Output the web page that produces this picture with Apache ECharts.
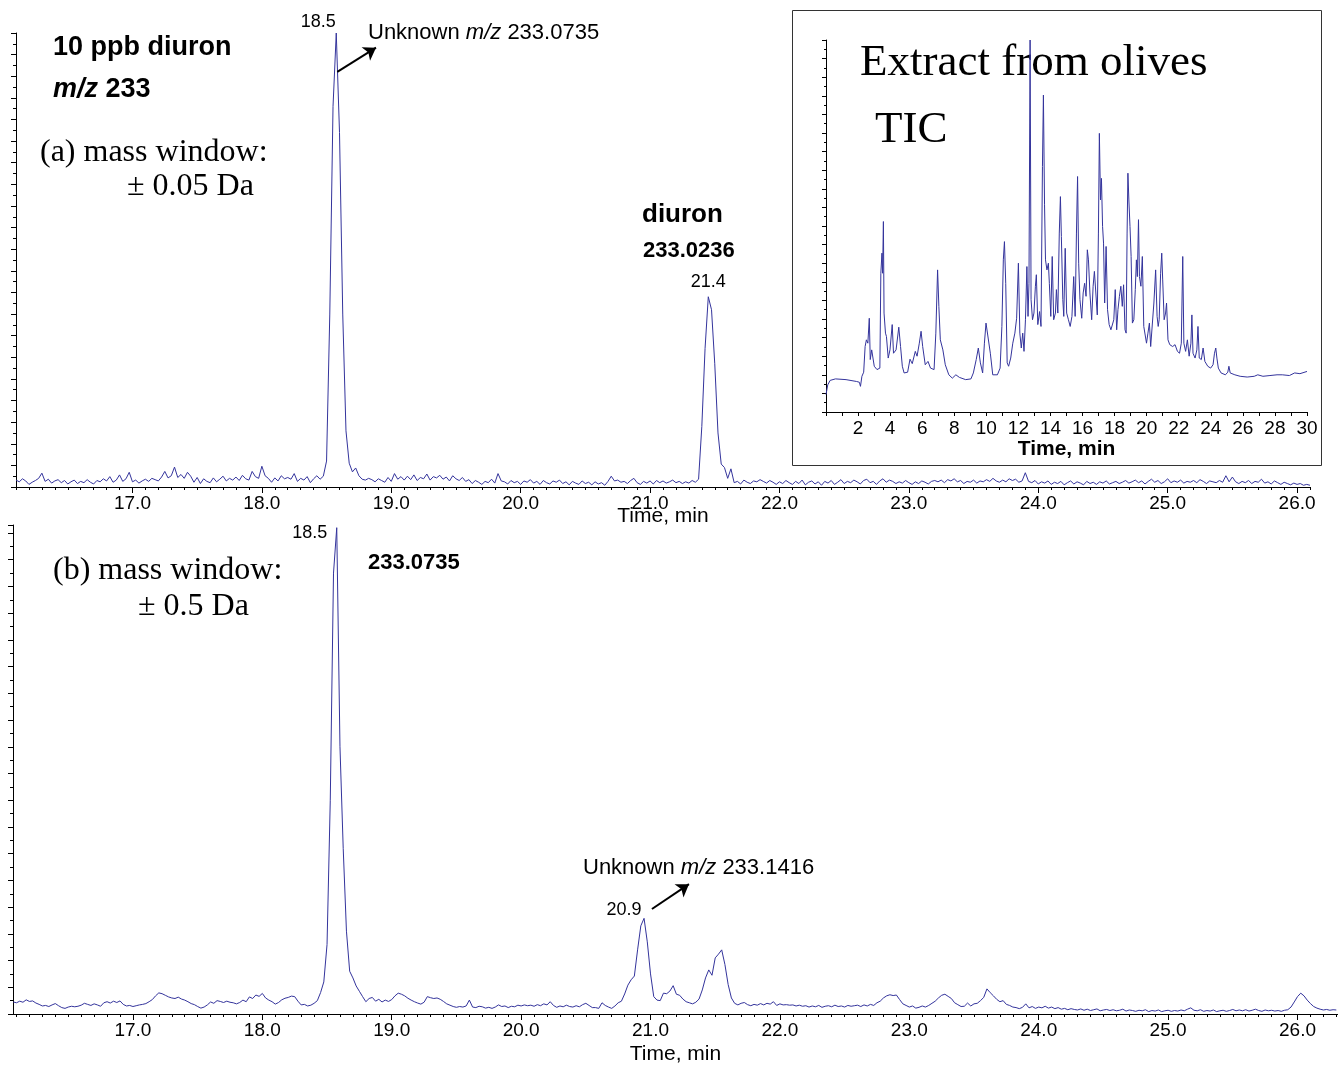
<!DOCTYPE html>
<html>
<head>
<meta charset="utf-8">
<title>diuron m/z 233 chromatograms</title>
<script src="https://cdn.jsdelivr.net/npm/echarts@6/dist/echarts.min.js"></script>
<style>
  html, body { margin: 0; padding: 0; background: #fff; }
  #main { width: 1338px; height: 1065px; }
</style>
</head>
<body>
<div id="main"></div>
<script>
// (a) XIC, mass window +/- 0.05 Da : one scan every 0.025 min from 16.1 min
var topStart = 16.1;
var topStep = 0.025;
var topIntensity = [
  1.6, 1.2, 1.9, 1.4, 0.6, 1.1, 1.5, 2.0, 3.2, 1.3, 1.8, 0.9, 1.4, 1.7, 1.0, 1.5, 0.7, 1.2, 1.6, 0.8,
  1.3, 1.0, 1.7, 1.1, 0.7, 1.5, 1.2, 1.9, 1.4, 2.4, 1.1, 1.6, 2.8, 1.3, 1.9, 3.4, 1.2, 1.6, 0.9, 1.4,
  1.8, 1.3, 2.0, 1.7, 1.4, 2.3, 3.6, 2.1, 2.6, 4.6, 2.2, 2.9, 2.0, 3.4, 2.5, 1.1, 2.2, 0.8, 1.9, 1.3,
  1.0, 2.1, 1.2, 1.8, 2.5, 1.4, 2.0, 1.6, 2.3, 1.5, 2.7, 1.9, 1.6, 3.6, 2.4, 2.0, 4.8, 2.6, 2.0, 1.1,
  2.1, 1.4, 2.6, 1.9, 2.2, 1.8, 3.1, 1.3, 2.0, 1.6, 2.4, 1.0, 1.9, 2.6, 1.8, 2.5, 6.0, 40, 88, 105,
  82, 40, 13, 5.5, 3.5, 4.4, 2.6, 1.8, 1.6, 2.0, 1.7, 1.2, 1.9, 1.5, 1.1, 2.2, 1.3, 3.1, 1.8, 2.4,
  1.6, 2.5, 1.7, 2.8, 1.5, 2.2, 1.9, 3.0, 1.6, 2.4, 2.1, 2.7, 1.8, 2.3, 1.4, 2.6, 1.9, 1.5, 2.2, 1.3,
  1.7, 0.8, 1.5, 1.1, 0.6, 1.3, 1.0, 1.8, 0.9, 3.1, 1.4, 1.2, 0.7, 1.5, 1.0, 1.3, 0.6, 1.4, 1.1, 1.7,
  0.9, 1.3, 0.6, 1.5, 1.0, 0.7, 1.4, 1.1, 1.6, 0.8, 1.2, 0.5, 1.3, 0.9, 0.6, 1.4, 0.8, 1.1, 0.5, 1.2,
  0.7, 1.0, 0.4, 1.3, 2.5, 1.4, 1.6, 1.1, 1.3, 0.8, 1.5, 2.0, 1.0, 0.6, 1.3, 0.9, 1.4, 0.7, 1.5, 1.0,
  1.4, 0.9, 1.2, 1.6, 1.0, 1.3, 0.8, 1.2, 0.9, 1.5, 1.1, 1.8, 14, 32, 44, 41, 28.5, 12.5, 5.3, 4.5,
  2.0, 4.2, 1.0, 1.3, 0.7, 1.6, 1.1, 0.8, 1.4, 1.2, 1.7, 1.3, 0.9, 1.5, 1.1, 0.6, 1.2, 0.8, 1.5, 1.0,
  0.6, 1.3, 0.8, 1.6, 0.5, 1.1, 1.4, 0.7, 1.2, 0.4, 1.3, 0.9, 1.5, 0.6, 1.1, 1.7, 0.8, 1.3, 1.0, 1.6,
  1.2, 0.7, 1.5, 1.8, 1.0, 1.3, 0.6, 1.4, 1.9, 1.1, 1.6, 1.3, 0.8, 1.2, 0.9, 1.5, 1.0, 0.6, 1.2, 0.8,
  1.4, 1.1, 0.7, 1.3, 1.5, 1.2, 1.6, 1.0, 1.7, 1.4, 1.9, 1.2, 1.5, 0.8, 1.3, 1.1, 1.6, 0.9, 1.4, 1.2,
  1.7, 1.3, 2.0, 1.4, 1.1, 1.6, 1.2, 1.9, 1.5, 1.8, 1.1, 1.4, 3.3, 1.3, 1.0, 1.5, 0.7, 1.2, 0.9, 1.4,
  0.6, 1.1, 0.8, 1.3, 0.5, 1.0, 1.4, 0.7, 1.2, 0.9, 0.5, 1.3, 0.8, 1.1, 0.6, 1.2, 0.9, 1.4, 0.7, 1.0,
  1.3, 0.8, 1.1, 1.5, 0.9, 1.2, 1.6, 1.0, 1.4, 0.7, 1.3, 1.8, 1.1, 1.5, 0.8, 1.2, 1.9, 1.0, 1.4, 1.1,
  1.6, 0.9, 1.3, 1.1, 1.5, 1.0, 1.7, 1.3, 0.8, 1.4, 1.2, 1.0, 1.5, 1.1, 2.6, 1.2, 2.3, 1.2, 0.8, 1.3,
  1.0, 1.5, 0.8, 1.3, 1.1, 1.8, 0.9, 1.2, 0.7, 1.4, 1.0, 0.6, 1.1, 0.8, 0.5, 0.9, 0.6, 0.8, 0.4, 0.6,
  0.4
];

// (b) XIC, mass window +/- 0.5 Da : one scan every 0.025 min from 16.075 min
var bottomStart = 16.075;
var bottomStep = 0.025;
var bottomIntensity = [
  4.5, 4.2, 4.8, 4.4, 5.3, 4.7, 4.9, 4.1, 3.6, 3.0, 3.2, 2.8, 3.4, 3.9, 3.1, 2.4, 2.1, 2.6, 2.9, 2.7,
  2.9, 3.3, 4.0, 3.6, 3.2, 3.8, 3.4, 2.9, 4.2, 4.6, 4.1, 4.8, 4.3, 4.9, 3.6, 3.0, 3.2, 2.8, 3.1, 3.4,
  3.6, 3.9, 4.6, 5.4, 6.8, 7.9, 7.6, 7.0, 6.4, 6.0, 5.8, 6.3, 5.6, 5.2, 4.6, 3.9, 3.5, 2.8, 2.2, 2.6,
  3.4, 4.5, 4.0, 5.0, 4.7, 4.3, 4.8, 4.4, 4.2, 3.8, 4.3, 5.2, 4.6, 6.4, 5.8, 7.1, 6.6, 7.7, 6.0, 5.2,
  4.6, 3.7, 4.3, 5.3, 5.9, 6.2, 6.7, 6.5, 4.8, 3.4, 3.6, 3.0, 3.3, 4.0, 5.0, 8.0, 12, 26, 80, 165,
  182, 100, 62, 31, 16, 13.5, 10.5, 8.5, 6.5, 4.6, 5.8, 6.2, 4.8, 5.5, 4.5, 5.2, 4.7, 5.4, 6.8, 7.8,
  7.4, 6.8, 5.9, 5.2, 4.6, 4.1, 3.7, 4.4, 6.5, 6.1, 5.8, 6.0, 5.5, 4.7, 3.8, 3.3, 2.8, 2.5, 2.8, 2.6,
  3.0, 5.2, 2.6, 2.4, 2.9, 2.7, 2.2, 2.5, 2.1, 2.6, 3.4, 2.8, 3.0, 2.4, 2.9, 2.7, 3.3, 3.0, 3.4, 3.1,
  3.3, 2.9, 3.5, 3.1, 3.8, 3.4, 4.6, 3.2, 2.5, 3.0, 2.7, 3.3, 2.8, 2.6, 3.1, 2.7, 3.5, 4.0, 3.2, 2.4,
  2.4, 2.1, 4.2, 3.2, 2.6, 2.1, 3.0, 4.2, 4.8, 7.5, 10.8, 12.8, 14.2, 24, 33, 35.8, 27, 15, 6.5, 5.2,
  5.0, 7.8, 7.6, 8.6, 10.6, 7.4, 7.0, 5.6, 4.6, 4.2, 3.8, 4.4, 5.6, 9.0, 13.5, 16.5, 14.5, 21, 22.4, 24,
  18.5, 11, 6.0, 4.0, 3.4, 4.0, 4.3, 3.5, 3.1, 3.6, 3.3, 3.9, 3.4, 4.0, 3.7, 4.6, 3.2, 3.8, 3.4, 3.5,
  3.3, 3.4, 3.0, 3.3, 2.9, 3.1, 2.6, 3.0, 2.7, 3.2, 2.5, 2.9, 3.1, 2.7, 3.3, 2.8, 3.0, 2.6, 3.2, 2.9,
  3.1, 3.3, 2.8, 3.4, 3.0, 3.6, 3.2, 4.2, 4.8, 6.0, 6.8, 7.2, 6.9, 7.1, 5.4, 3.8, 3.2, 2.6, 3.0, 2.2,
  2.5, 3.0, 2.6, 3.2, 4.0, 4.8, 6.0, 7.0, 7.4, 6.6, 5.8, 4.2, 3.5, 2.8, 2.9, 4.1, 3.0, 3.8, 4.0, 5.0,
  6.2, 9.4, 8.0, 6.8, 5.5, 4.6, 5.0, 3.6, 3.2, 2.6, 2.4, 2.0, 2.5, 3.8, 2.3, 2.8, 2.1, 2.6, 2.3, 2.9,
  2.2, 2.6, 2.0, 2.4, 1.8, 2.1, 1.6, 2.0, 1.7, 1.5, 1.9, 1.4, 1.8, 1.3, 1.6, 1.9, 1.2, 1.5, 1.7, 1.3,
  1.6, 1.2, 1.4, 1.8, 1.1, 1.5, 1.3, 1.0, 1.4, 1.2, 1.6, 0.9, 1.3, 1.1, 1.5, 0.9, 1.2, 1.4, 1.0, 1.3,
  1.1, 1.5, 1.2, 1.8, 2.3, 1.4, 1.2, 1.6, 1.0, 1.3, 1.1, 1.5, 0.9, 1.2, 1.4, 1.0, 1.3, 1.7, 1.2, 1.5,
  1.2, 1.6, 1.1, 1.4, 1.8, 1.3, 1.0, 1.5, 1.2, 1.4, 1.1, 1.3, 1.0, 1.4, 1.6, 2.6, 4.5, 6.5, 7.8, 6.8,
  5.2, 3.9, 2.8, 2.2, 1.8, 1.5, 1.7, 1.4, 1.6, 1.5
];

// inset: TIC of the olive extract (time in min, relative intensity)
var ticTime = [
  0, 0.11, 0.26, 0.59, 1.25, 1.91, 2.08, 2.15, 2.24, 2.35, 2.44, 2.52, 2.61, 2.70, 2.76, 2.85, 3.01, 3.18,
  3.36, 3.42, 3.49, 3.53, 3.58, 3.62, 3.71, 3.77, 3.88, 3.99, 4.06, 4.13, 4.21, 4.37, 4.54, 4.65, 4.76, 4.87,
  5.09, 5.24, 5.38, 5.57, 5.68, 5.82, 5.93, 6.03, 6.19, 6.36, 6.52, 6.74, 6.85, 6.96, 7.04, 7.13, 7.29, 7.44,
  7.66, 7.88, 8.10, 8.32, 8.71, 9.04, 9.19, 9.37, 9.50, 9.63, 9.77, 9.88, 9.98, 10.09, 10.25, 10.40, 10.69, 10.86,
  10.97, 11.06, 11.13, 11.21, 11.30, 11.39, 11.52, 11.65, 11.78, 11.89, 12.00, 12.09, 12.18, 12.27, 12.35, 12.44,
  12.53, 12.60, 12.66, 12.73, 12.79, 12.88, 12.97, 13.06, 13.12, 13.21, 13.32, 13.41, 13.50, 13.56, 13.63, 13.69,
  13.78, 13.87, 13.93, 14.02, 14.11, 14.20, 14.31, 14.37, 14.46, 14.55, 14.62, 14.68, 14.77, 14.83, 14.92, 15.01,
  15.12, 15.23, 15.34, 15.45, 15.54, 15.62, 15.69, 15.76, 15.84, 15.95, 16.04, 16.13, 16.22, 16.30, 16.37, 16.46,
  16.57, 16.66, 16.74, 16.83, 16.92, 16.99, 17.05, 17.12, 17.18, 17.25, 17.31, 17.38, 17.47, 17.56, 17.66, 17.77,
  17.86, 17.95, 18.04, 18.13, 18.21, 18.30, 18.39, 18.48, 18.56, 18.65, 18.72, 18.78, 18.83, 18.89, 18.96, 19.03,
  19.11, 19.20, 19.29, 19.36, 19.42, 19.49, 19.55, 19.64, 19.73, 19.82, 19.90, 19.99, 20.08, 20.17, 20.25, 20.36,
  20.45, 20.56, 20.65, 20.72, 20.78, 20.87, 20.94, 21.00, 21.09, 21.18, 21.24, 21.33, 21.44, 21.62, 21.77, 21.92,
  22.05, 22.16, 22.25, 22.32, 22.43, 22.54, 22.65, 22.76, 22.82, 22.89, 23.02, 23.13, 23.20, 23.28, 23.41, 23.52,
  23.63, 23.81, 23.99, 24.14, 24.23, 24.31, 24.38, 24.47, 24.64, 24.91, 25.06, 25.13, 25.21, 25.50, 25.83, 26.27,
  26.71, 26.93, 27.25, 27.69, 28.13, 28.46, 28.90, 29.23, 29.56, 30.0
];
var ticIntensity = [
  4.7, 7.3, 8.5, 8.9, 8.7, 8.2, 8.0, 6.9, 9.6, 10.7, 17.6, 19.4, 18.5, 25.2, 14.1, 16.7, 12.3, 11.4,
  11.8, 37.3, 42.7, 37.3, 51.2, 26.6, 21.2, 20.3, 14.5, 16.7, 17.2, 23.5, 15.8, 16.7, 22.8, 17.6, 12.3, 10.5,
  10.7, 14.2, 13.0, 16.3, 15.0, 18.5, 21.7, 17.6, 12.7, 13.6, 11.8, 11.4, 21.2, 38.2, 28.4, 19.4, 16.7, 12.7,
  10.0, 9.1, 10.0, 9.3, 8.7, 8.9, 10.5, 14.1, 17.2, 13.2, 10.5, 18.5, 23.9, 23.5, 15.8, 10.0, 10.0, 11.8,
  23.0, 40.9, 45.8, 34.6, 13.2, 12.3, 14.5, 18.5, 21.2, 25.2, 40.0, 21.2, 17.2, 21.2, 16.3, 24.8,
  39.1, 25.7, 34.6, 100, 30.2, 24.8, 26.6, 33.8, 36.9, 23.5, 27.0, 23.0, 66.0, 85.2, 55.7, 40.9,
  38.2, 40.0, 34.6, 25.7, 41.8, 24.8, 26.6, 32.9, 26.6, 48.1, 57.9, 47.2, 30.2, 25.7, 44.0, 26.6,
  24.8, 23.0, 25.7, 36.4, 25.7, 48.1, 63.3, 40.0, 30.2, 25.2, 32.0, 34.6, 31.1, 43.6, 40.9, 32.0,
  24.8, 33.8, 37.8, 37.3, 26.1, 48.1, 74.9, 57.0, 62.8, 49.9, 45.4, 29.3, 44.5, 27.5, 23.5, 22.1,
  21.7, 24.8, 32.9, 22.1, 27.5, 31.1, 33.8, 28.4, 34.2, 22.1, 21.2, 48.1, 64.2, 57.0, 49.9, 41.8,
  23.9, 24.8, 32.9, 40.9, 36.4, 51.7, 36.4, 33.8, 41.8, 23.0, 22.6, 18.5, 21.2, 23.9, 17.6, 17.5,
  29.3, 38.2, 25.7, 23.0, 24.8, 37.3, 42.7, 35.5, 24.8, 26.6, 29.3, 19.4, 18.1, 17.6, 18.1, 16.3,
  15.8, 18.5, 41.8, 18.5, 16.3, 19.4, 15.0, 18.5, 26.1, 15.8, 14.5, 16.7, 23.0, 14.5, 14.1, 17.2,
  13.6, 12.3, 11.8, 12.7, 15.8, 17.2, 14.5, 11.8, 10.5, 10.0, 10.7, 12.3, 10.5, 10.0, 9.6, 9.4,
  9.6, 10.0, 9.6, 9.8, 10.0, 10.0, 9.8, 10.5, 10.3, 10.9
];

var topTicks = [17, 18, 19, 20, 21, 22, 23, 24, 25, 26];
var insetTicks = [2, 4, 6, 8, 10, 12, 14, 16, 18, 20, 22, 24, 26, 28, 30];

var SANS = "'Liberation Sans', Arial, Helvetica, sans-serif";
var SERIF = "'Liberation Serif', 'Times New Roman', serif";
var LINE = '#34349c';

function scans(start, step, values) {
  return values.map(function (v, i) {
    return [+(start + i * step).toFixed(3), v];
  });
}
function pairs(xs, ys) {
  return xs.map(function (x, i) { return [x, ys[i]]; });
}
function tenths(from, to) {
  var out = [];
  for (var k = from; k <= to; k++) out.push(k / 10);
  return out;
}

function mainAxis(grid, min, max, nameGap) {
  return {
    type: 'value', gridIndex: grid, position: 'bottom', min: min, max: max,
    axisLine: { show: true, lineStyle: { color: '#000', width: 1 } },
    axisTick: { show: true, customValues: topTicks, length: 6, lineStyle: { color: '#000' } },
    axisLabel: {
      show: true, customValues: topTicks, margin: 7,
      fontFamily: SANS, fontSize: 19, color: '#000',
      formatter: function (v) { return v.toFixed(1); }
    },
    splitLine: { show: false },
    name: 'Time, min', nameLocation: 'middle', nameGap: nameGap, nameMoveOverlap: false,
    nameTextStyle: { fontFamily: SANS, fontSize: 21, color: '#000' }
  };
}
// second axis on the same grid, only for the short 0.1 min ticks
function minorAxis(grid, min, max, ticks) {
  return {
    type: 'value', gridIndex: grid, position: 'bottom', offset: 0, min: min, max: max,
    axisLine: { show: false },
    axisTick: { show: true, customValues: ticks, length: 3, lineStyle: { color: '#000' } },
    axisLabel: { show: false },
    splitLine: { show: false }
  };
}
function yAxisFor(grid, max, interval, len) {
  return {
    type: 'value', gridIndex: grid, min: 0, max: max, interval: interval,
    axisLine: { show: true, lineStyle: { color: '#000', width: 1 } },
    axisTick: { show: true, length: len, lineStyle: { color: '#000' } },
    minorTick: { show: true, splitNumber: 2, length: len - 2, lineStyle: { color: '#000' } },
    axisLabel: { show: false },
    splitLine: { show: false },
    minorSplitLine: { show: false }
  };
}
function text(x, y, str, font, z) {
  return {
    type: 'text', x: x, y: y, z: z || 10,
    style: {
      text: str, font: font, fill: '#000',
      textAlign: 'left', textVerticalAlign: 'middle', align: 'left', verticalAlign: 'middle'
    }
  };
}
function richText(x, y, str, size, weight) {
  return {
    type: 'text', x: x, y: y, z: 10,
    style: {
      text: str, fill: '#000',
      textAlign: 'left', textVerticalAlign: 'middle', align: 'left', verticalAlign: 'middle',
      rich: {
        n: { fontFamily: SANS, fontSize: size, fontWeight: weight, fill: '#000' },
        i: { fontFamily: SANS, fontSize: size, fontWeight: weight, fontStyle: 'italic', fill: '#000' }
      }
    }
  };
}

var peakLabel = {
  show: true, formatter: '{b}', fontFamily: SANS, fontSize: 18, color: '#000'
};
var arrow = {
  silent: true, symbol: ['none', 'arrow'], symbolSize: 12,
  lineStyle: { color: '#000', width: 2, type: 'solid' },
  label: { show: false }, emphasis: { disabled: true }
};

var myChart = echarts.init(document.getElementById('main'));

var option = {
  animation: false,
  backgroundColor: '#fff',
  textStyle: { fontFamily: SANS },
  grid: [
    { left: 16, top: 33, width: 1294, height: 454, outerBoundsMode: 'none' },
    { left: 13, top: 525, width: 1325, height: 489, outerBoundsMode: 'none' },
    { left: 826, top: 40, width: 481, height: 372, outerBoundsMode: 'none' }
  ],
  xAxis: [
    mainAxis(0, 16.1, 26.1, 19),
    minorAxis(0, 16.1, 26.1, tenths(161, 261)),
    mainAxis(1, 16.073, 26.313, 30),
    minorAxis(1, 16.073, 26.313, tenths(161, 263)),
    {
      type: 'value', gridIndex: 2, position: 'bottom', min: 0, max: 30, interval: 1,
      axisLine: { show: true, lineStyle: { color: '#000', width: 1 } },
      axisTick: { show: true, length: 4, lineStyle: { color: '#000' } },
      axisLabel: { show: true, customValues: insetTicks, margin: 7, fontFamily: SANS, fontSize: 19, color: '#000' },
      splitLine: { show: false },
      name: 'Time, min', nameLocation: 'middle', nameGap: 24,
      nameTextStyle: { fontFamily: SANS, fontSize: 21, fontWeight: 'bold', color: '#000' }
    }
  ],
  yAxis: [
    yAxisFor(0, 105, 5, 5),
    yAxisFor(1, 183, 10, 5),
    yAxisFor(2, 100, 5, 4)
  ],
  series: [
    {
      name: 'mass window 0.05 Da', type: 'line', xAxisIndex: 0, yAxisIndex: 0,
      data: scans(topStart, topStep, topIntensity),
      showSymbol: false, symbol: 'none', smooth: false,
      lineStyle: { color: LINE, width: 1 },
      markPoint: {
        symbol: 'circle', symbolSize: 1, itemStyle: { color: 'rgba(0,0,0,0)' },
        label: peakLabel, silent: true,
        data: [
          { name: '18.5', coord: [18.575, 105], label: { position: 'top', distance: 1, offset: [-18, 0] } },
          { name: '21.4', coord: [21.45, 44], label: { position: 'top', distance: 5 } }
        ]
      },
      markLine: Object.assign({ data: [[{ coord: [18.583, 96] }, { coord: [18.882, 101.6] }]] }, arrow)
    },
    {
      name: 'mass window 0.5 Da', type: 'line', xAxisIndex: 2, yAxisIndex: 1,
      data: scans(bottomStart, bottomStep, bottomIntensity),
      showSymbol: false, symbol: 'none', smooth: false,
      lineStyle: { color: LINE, width: 1 },
      markPoint: {
        symbol: 'circle', symbolSize: 1, itemStyle: { color: 'rgba(0,0,0,0)' },
        label: peakLabel, silent: true,
        data: [
          { name: '18.5', coord: [18.575, 182], label: { position: 'left', distance: 9, offset: [0, 5] } },
          { name: '20.9', coord: [20.95, 35.8], label: { position: 'left', distance: 2, offset: [0, -8] } }
        ]
      },
      markLine: Object.assign({ data: [[{ coord: [21.011, 39.3] }, { coord: [21.297, 48.6] }]] }, arrow)
    },
    {
      name: 'TIC', type: 'line', xAxisIndex: 4, yAxisIndex: 2,
      data: pairs(ticTime, ticIntensity),
      showSymbol: false, symbol: 'none', smooth: false,
      lineStyle: { color: LINE, width: 1 }
    }
  ],
  graphic: [
    {
      type: 'rect', z: -5,
      shape: { x: 792.5, y: 10.5, width: 529, height: 455 },
      style: { fill: '#fff', stroke: '#333', lineWidth: 1 }
    },
    text(860, 63, 'Extract from olives', '45px ' + SERIF, 1),
    text(875, 130, 'TIC', '45px ' + SERIF, 1),
    text(53, 48, '10 ppb diuron', 'bold 27px ' + SANS),
    richText(53, 90, '{i|m/z}{n| 233}', 27, 'bold'),
    text(40, 153, '(a) mass window:', '32px ' + SERIF),
    text(127, 187, '\u00b1 0.05 Da', '32px ' + SERIF),
    richText(368, 33, '{n|Unknown }{i|m/z}{n| 233.0735}', 22, 'normal'),
    text(642, 215, 'diuron', 'bold 26px ' + SANS),
    text(643, 251, '233.0236', 'bold 22px ' + SANS),
    text(53, 571, '(b) mass window:', '32px ' + SERIF),
    text(138, 607, '\u00b1 0.5 Da', '32px ' + SERIF),
    text(368, 563, '233.0735', 'bold 22px ' + SANS),
    richText(583, 868, '{n|Unknown }{i|m/z}{n| 233.1416}', 22, 'normal')
  ]
};

myChart.setOption(option);
</script>
</body>
</html>
